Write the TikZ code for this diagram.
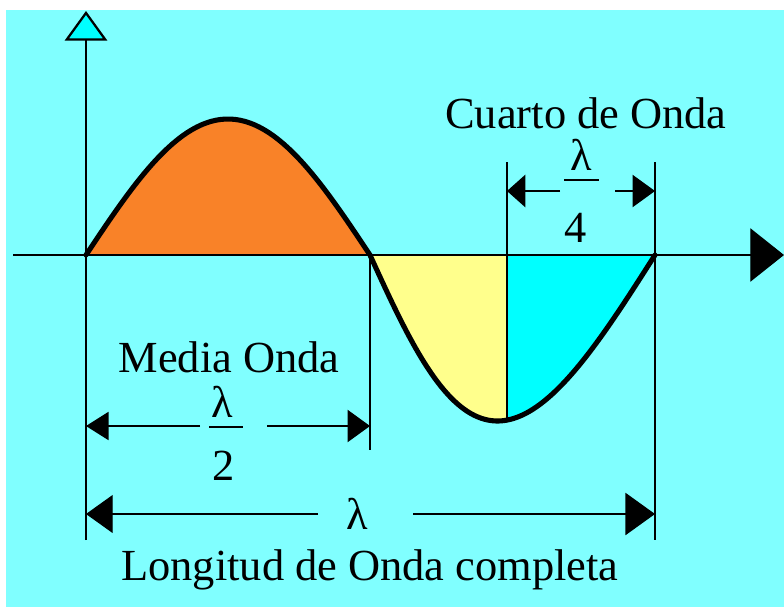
\documentclass[tikz,border=0pt]{standalone}
\usepackage{fontspec}
\setmainfont{Liberation Serif}
\usepackage{xcolor}
\definecolor{waveBack}{HTML}{80FFFF}
\definecolor{waveOrange}{HTML}{F98228}
\definecolor{waveYellow}{HTML}{FFFF8C}
\definecolor{waveCyan}{HTML}{00FFFF}
\usepackage{tikz}
\usetikzlibrary{arrows.meta}

\begin{document}
\begin{tikzpicture}[x=0.025cm,y=-0.025cm]
  \tikzset{
    thinline/.style={
      black,
      line width=0.9pt,
    },
    wave/.style={
      black,
      line width=3.6pt,
      line join=round,
      line cap=round,
    },
    lbl/.style={
      font=\fontsize{31.6pt}{36pt}\selectfont,
      inner sep=0pt,
      anchor=base,
    },
    fracbar/.style={
      black,
      line width=2.1pt,
    },
  }

  \path[use as bounding box,fill=white] (0,0) rectangle (784,607);
  \fill[waveBack] (6,10) rectangle (784,607);

  % Named points of the axes and the extension lines.
  \coordinate (yTop) at (86,11);
  \coordinate (yBot) at (86,540);
  \coordinate (xLeft) at (13,255);
  \coordinate (xRight) at (784,255);
  \coordinate (halfTop) at (370,255);
  \coordinate (halfBot) at (370,450);
  \coordinate (quartTop) at (507,162);
  \coordinate (quartBot) at (507,421);
  \coordinate (fullTop) at (655,162);
  \coordinate (fullBot) at (655,540);

  % Filled lobes of the wave.
  \fill[waveOrange] plot[domain=0:180,samples=60] ({86+\x/180*284},{255-136*sin(\x)}) -- cycle;
  \fill[waveYellow] plot[domain=0:96,samples=40] ({370+\x/180*285-15*sin(\x)},{255+166*sin(\x)})
    -- (507,255) -- cycle;
  \fill[waveCyan] plot[domain=96:180,samples=40] ({370+\x/180*285-15*sin(\x)},{255+166*sin(\x)})
    -- (507,255) -- cycle;

  \draw[thinline] (quartTop) -- (quartBot);
  \draw[thinline] (halfTop) -- (halfBot);
  \draw[thinline] (fullTop) -- (fullBot);

  \draw[wave] plot[domain=0:180,samples=60] ({86+\x/180*284},{255-136*sin(\x)})
    -- plot[domain=0:180,samples=80] ({370+\x/180*285-15*sin(\x)},{255+166*sin(\x)});

  % Axes.
  \draw[thinline,-{Triangle[length=24pt,width=38pt]}] (xLeft) -- (xRight);
  \draw[thinline,-{Triangle[length=21pt,width=30pt,fill=waveCyan,line width=1.6pt]}] (yBot) -- (yTop);

  % Quarter wave.
  \node[lbl] (cuarto) at (586,128) {Cuarto de Onda};
  \node[lbl] (lamCuartoNum) at (581,170) {λ};
  \draw[fracbar] (564,180) -- (599,180);
  \node[lbl] (lamCuartoDen) at (576,242) {4};
  \coordinate (cuartoL) at (560,191);
  \coordinate (cuartoR) at (615,191);
  \draw[thinline,-{Triangle[length=13pt,width=23pt]}] (cuartoL) -- (quartTop |- cuartoL);
  \draw[thinline,-{Triangle[length=16pt,width=23pt]}] (cuartoR) -- (fullTop |- cuartoR);

  % Half wave.
  \node[lbl] (media) at (229,372) {Media Onda};
  \node[lbl] (lamMediaNum) at (222,417) {λ};
  \draw[fracbar] (209,427) -- (243,427);
  \node[lbl] (lamMediaDen) at (224,480) {2};
  \coordinate (mediaL) at (200,426);
  \coordinate (mediaR) at (267,426);
  \draw[thinline,-{Triangle[length=16pt,width=20pt]}] (mediaL) -- (yTop |- mediaL);
  \draw[thinline,-{Triangle[length=16pt,width=23pt]}] (mediaR) -- (halfTop |- mediaR);

  % Full wave.
  \node[lbl] (lamFull) at (357,529) {λ};
  \coordinate (fullL) at (318,514);
  \coordinate (fullR) at (413,514);
  \draw[thinline,-{Triangle[length=19pt,width=27pt]}] (fullL) -- (yTop |- fullL);
  \draw[thinline,-{Triangle[length=21pt,width=30pt]}] (fullR) -- (fullTop |- fullR);
  \node[lbl] (longitud) at (370,580) {Longitud de Onda completa};
\end{tikzpicture}
\end{document}
